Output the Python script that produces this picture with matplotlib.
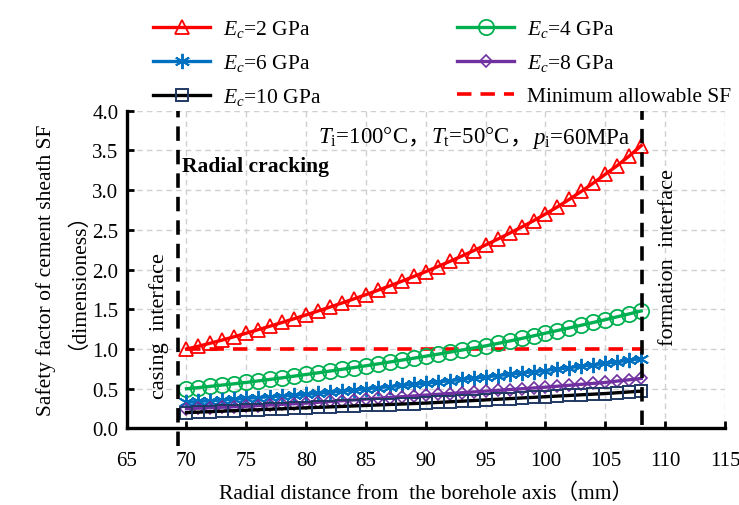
import matplotlib
matplotlib.use("Agg")
import matplotlib.pyplot as plt
from matplotlib.transforms import offset_copy

plt.rcParams['font.family'] = ['Liberation Serif', 'Noto Sans CJK SC']
plt.rcParams['mathtext.fontset'] = 'custom'
plt.rcParams['mathtext.rm'] = 'Liberation Serif'
plt.rcParams['mathtext.it'] = 'Liberation Serif:italic'

# radial distance (mm), one point per mm
r_mm = [70, 71, 72, 73, 74, 75, 76, 77, 78, 79, 80, 81, 82, 83, 84, 85, 86, 87, 88, 89,
        90, 91, 92, 93, 94, 95, 96, 97, 98, 99, 100, 101, 102, 103, 104, 105, 106, 107, 108]

sf_e2 = [1.000, 1.036, 1.074, 1.114, 1.156, 1.200, 1.244, 1.289, 1.335, 1.382,
         1.430, 1.479, 1.529, 1.580, 1.632, 1.685, 1.740, 1.796, 1.854, 1.914,
         1.975, 2.038, 2.103, 2.170, 2.239, 2.310, 2.383, 2.458, 2.535, 2.615,
         2.700, 2.790, 2.885, 2.985, 3.090, 3.200, 3.310, 3.430, 3.560]
sf_e4 = [0.500, 0.515, 0.531, 0.547, 0.563, 0.580, 0.599, 0.618, 0.638, 0.659,
         0.680, 0.701, 0.723, 0.745, 0.767, 0.790, 0.813, 0.837, 0.861, 0.885,
         0.910, 0.935, 0.961, 0.987, 1.013, 1.040, 1.070, 1.101, 1.133, 1.166,
         1.200, 1.233, 1.266, 1.300, 1.335, 1.370, 1.406, 1.443, 1.480]
sf_e6 = [0.330, 0.340, 0.350, 0.360, 0.370, 0.380, 0.390, 0.400, 0.410, 0.420,
         0.430, 0.443, 0.457, 0.471, 0.485, 0.500, 0.514, 0.528, 0.542, 0.556,
         0.570, 0.586, 0.602, 0.618, 0.634, 0.650, 0.666, 0.682, 0.698, 0.714,
         0.730, 0.748, 0.766, 0.784, 0.802, 0.820, 0.840, 0.860, 0.880]
sf_e8 = [0.250, 0.256, 0.262, 0.268, 0.274, 0.280, 0.288, 0.296, 0.304, 0.312,
         0.320, 0.330, 0.340, 0.350, 0.360, 0.370, 0.380, 0.390, 0.400, 0.410,
         0.420, 0.430, 0.440, 0.450, 0.460, 0.470, 0.480, 0.490, 0.500, 0.510,
         0.520, 0.532, 0.544, 0.556, 0.568, 0.580, 0.597, 0.613, 0.630]
sf_e10 = [0.200, 0.206, 0.212, 0.218, 0.224, 0.230, 0.236, 0.242, 0.248, 0.254,
          0.260, 0.266, 0.272, 0.278, 0.284, 0.290, 0.296, 0.302, 0.308, 0.314,
          0.320, 0.328, 0.336, 0.344, 0.352, 0.360, 0.368, 0.376, 0.384, 0.392,
          0.400, 0.408, 0.416, 0.424, 0.432, 0.440, 0.450, 0.460, 0.470]

min_sf = 1.0
casing_r = 69.3
formation_r = 108.1
x_ticks = [65, 70, 75, 80, 85, 90, 95, 100, 105, 110, 115]
y_ticks = [0.0, 0.5, 1.0, 1.5, 2.0, 2.5, 3.0, 3.5, 4.0]

fig = plt.figure(figsize=(7.39, 5.06), dpi=100)
ax = fig.add_axes([0.1714, 0.1512, 0.8096, 0.628])

ax.plot(r_mm, sf_e2, color='#FF0000', lw=2.4, marker='^', ms=9.5, mfc='none', mec='#FF0000', mew=1.3,
        label='$E_c$=2 GPa', zorder=5)
ax.plot(r_mm, sf_e4, color='#00B050', lw=2.4, marker='o', ms=11, mfc='none', mec='#00B050', mew=1.3,
        label='$E_c$=4 GPa', zorder=5)
ax.plot(r_mm, sf_e6, color='#0070C0', lw=2.4, marker=(6, 2, 0), ms=11, mec='#0070C0', mew=1.4,
        label='$E_c$=6 GPa', zorder=5)
ax.plot(r_mm, sf_e8, color='#7030A0', lw=2.4, marker='D', ms=6.5, mfc='none', mec='#7030A0', mew=1.2,
        label='$E_c$=8 GPa', zorder=5)
ax.plot(r_mm, sf_e10, color='black', lw=2.4, marker='s', ms=9, mfc='none', mec='#203864', mew=1.4,
        label='$E_c$=10 GPa', zorder=5)
ax.plot([r_mm[0], r_mm[-1]], [min_sf, min_sf], color='#FF0000', lw=2.6, ls=(0, (4, 2.5)),
        label='Minimum allowable SF', zorder=4)

# interface lines
ax.plot([casing_r, casing_r], [-0.22, 4.0], color='black', lw=2.6, ls=(0, (4, 2.5)),
        clip_on=False, zorder=6)
ax.plot([formation_r, formation_r], [0.05, 4.0], color='black', lw=2.6, ls=(0, (4, 2.5)),
        clip_on=False, zorder=6)

ax.set_xlim(65, 115)
ax.set_ylim(0, 4.0)
ax.set_xticks(x_ticks)
ax.set_yticks(y_ticks)
ax.set_yticklabels([f'{v:.1f}' for v in y_ticks])
ax.grid(True, color='#D0D0D0', ls=(0, (4, 3)), lw=1.0)
ax.set_axisbelow(True)
for s in ['top', 'right']:
    ax.spines[s].set_visible(False)
for s in ['left', 'bottom']:
    ax.spines[s].set_linewidth(2.4)
ax.tick_params(direction='in', length=5, width=2, labelsize=15)
ax.tick_params(axis='x', pad=16)
ax.tick_params(axis='y', pad=6)

ax.set_xlabel('Radial distance from  the borehole axis（mm）', fontsize=15.5, labelpad=9)
ax.set_ylabel('Safety factor of cement sheath SF\n（dimensioness）', fontsize=15.5, labelpad=11,
              linespacing=1.0)

ax.text(69.65, 3.3, 'Radial cracking', fontsize=15.5, fontweight='bold', va='center', ha='left')
ax.text(67.7, 1.3, 'casing  interface', fontsize=16, rotation=90, va='center', ha='center')
ax.text(110.3, 2.17, 'formation  interface', fontsize=16, rotation=90, va='center', ha='center')

# condition label, pieces chained along one baseline
pieces = ['$T_{\\rm i}$=100°C', '，', '$T_{\\rm t}$=50°C', '，', '$p_{\\rm i}$=60MPa']
renderer = fig.canvas.get_renderer()
dx = 0.0
for s in pieces:
    tr = offset_copy(ax.transData, fig=fig, x=dx, y=0, units='dots')
    t = ax.text(81.0, 3.6, s, fontsize=16.5, va='baseline', ha='left', transform=tr)
    dx += t.get_window_extent(renderer).width

h, l = ax.get_legend_handles_labels()
order = [0, 2, 4, 1, 3, 5]
fig.legend([h[i] for i in order], [l[i] for i in order], ncol=2, frameon=False,
           loc='upper left', bbox_to_anchor=(0.181, 1.0), fontsize=15.5,
           handlelength=2.65, columnspacing=6.3, labelspacing=0.6, handletextpad=0.6)

fig.savefig('out.png', dpi=100)
